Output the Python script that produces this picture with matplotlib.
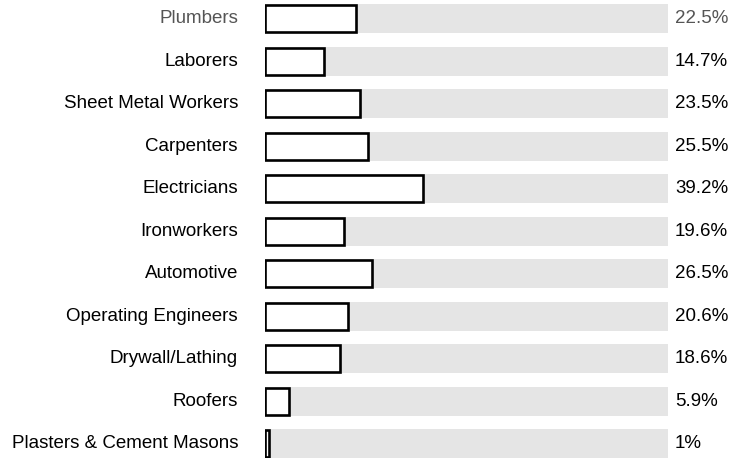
import matplotlib
matplotlib.use("Agg")
import matplotlib.pyplot as plt

plt.rcParams['font.family'] = ['Liberation Sans', 'DejaVu Sans']

trades = ["Plumbers", "Laborers", "Sheet Metal Workers", "Carpenters", "Electricians",
          "Ironworkers", "Automotive", "Operating Engineers", "Drywall/Lathing",
          "Roofers", "Plasters & Cement Masons"]
values = [22.5, 14.7, 23.5, 25.5, 39.2, 19.6, 26.5, 20.6, 18.6, 5.9, 1]
value_labels = ["22.5%", "14.7%", "23.5%", "25.5%", "39.2%", "19.6%", "26.5%",
                "20.6%", "18.6%", "5.9%", "1%"]

fig = plt.figure(figsize=(7.32, 4.58), dpi=100)
# plot area in pixels: track runs from x=265 to x=668
ax = fig.add_axes([265 / 732, 0, (668 - 265) / 732, 1])
px = 100 / 403  # data units per pixel along x

y = list(range(len(trades)))
ax.barh(y, [100] * len(trades), height=0.682, color="#e5e5e5", linewidth=0)
ax.barh(y, values, height=0.63, color="white", edgecolor="black", linewidth=1.9)

for i, (name, lab) in enumerate(zip(trades, value_labels)):
    col = "#555555" if i == 0 else "black"
    ax.text(-27 * px, i, name, ha="right", va="center", fontsize=13.5, color=col)
    ax.text(100 + 7 * px, i, lab, ha="left", va="center", fontsize=13.5, color=col)

ax.set_xlim(0, 100)
ax.set_ylim(10.334, -0.442)
ax.axis("off")

fig.savefig("out.png", dpi=100)
